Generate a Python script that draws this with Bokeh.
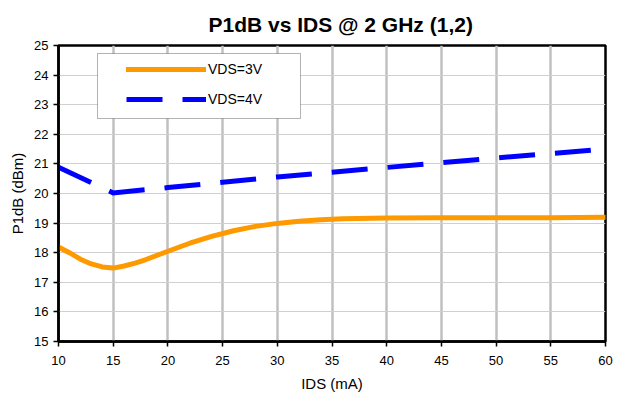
from bokeh.plotting import figure
from bokeh.models import Range1d, FixedTicker, Legend, LegendItem, BoxAnnotation
from bokeh.embed import file_html
from bokeh.resources import INLINE

# ---- data ----
ids_3v = [10, 11, 12, 13, 14, 15, 16, 17, 18, 20, 22, 24, 26, 28, 30, 32, 34, 36, 40, 45, 50, 55, 60]
p1db_3v = [18.19, 18.0, 17.78, 17.62, 17.52, 17.48, 17.55, 17.65, 17.77, 18.05, 18.32, 18.55,
           18.74, 18.89, 18.99, 19.06, 19.11, 19.15, 19.17, 19.18, 19.18, 19.18, 19.2]
ids_4v = [10, 15, 20, 25, 30, 35, 40, 45, 50, 55, 60]
p1db_4v = [20.89, 20.02, 20.2, 20.38, 20.56, 20.72, 20.88, 21.04, 21.2, 21.35, 21.5]
x_ticks = [10, 15, 20, 25, 30, 35, 40, 45, 50, 55, 60]
y_ticks = [15, 16, 17, 18, 19, 20, 21, 22, 23, 24, 25]
series_names = ["VDS=3V", "VDS=4V"]
title_text = "P1dB vs IDS @ 2 GHz (1,2)"
x_label = "IDS (mA)"
y_label = "P1dB (dBm)"

FONT = "Liberation Sans"

p = figure(width=616, height=400, output_backend="svg", toolbar_location=None,
           x_range=Range1d(10, 60), y_range=Range1d(15, 25),
           min_border_left=58, min_border_right=11, min_border_top=45, min_border_bottom=59)

p.title.text = title_text
p.title.text_font = FONT
p.title.text_font_size = "21px"
p.title.text_font_style = "bold"
p.title.text_color = "black"
p.title.align = "left"
p.title.offset = 150
p.title.standoff = 19

p.outline_line_color = "black"
p.outline_line_width = 2.5
p.background_fill_color = "white"
p.border_fill_color = "white"

p.xgrid.grid_line_color = "#C0C0C0"
p.xgrid.grid_line_width = 2.5
p.ygrid.grid_line_color = "#D0D0D0"
p.ygrid.grid_line_width = 1

p.xaxis.ticker = FixedTicker(ticks=x_ticks)
p.yaxis.ticker = FixedTicker(ticks=y_ticks)
for ax in (p.xaxis, p.yaxis):
    ax.axis_line_color = "black"
    ax.axis_line_width = 2.5
    ax.major_tick_line_color = "black"
    ax.major_tick_line_width = 1.5
    ax.major_tick_in = 0
    ax.major_tick_out = 5
    ax.minor_tick_line_color = None
    ax.major_label_text_font = FONT
    ax.major_label_text_font_size = "13px"
    ax.major_label_text_color = "black"
    ax.axis_label_text_font = FONT
    ax.axis_label_text_font_size = "15px"
    ax.axis_label_text_font_style = "normal"
    ax.axis_label_text_color = "black"
p.xaxis.axis_label = x_label
p.yaxis.axis_label = y_label
p.xaxis.major_label_standoff = 9
p.xaxis.axis_label_standoff = 7
p.yaxis.major_label_standoff = 5
p.yaxis.axis_label_standoff = 5

r3 = p.line(ids_3v, p1db_3v, line_color="#FF9900", line_width=5, line_join="round", line_cap="round")
r4 = p.line(ids_4v, p1db_4v, line_color="#0000FF", line_width=5, line_dash="36 20", line_join="miter")

box = BoxAnnotation(left=13.565, right=32.12, bottom=22.534, top=24.73,
                    fill_color="white", fill_alpha=1.0, line_color="black", line_width=1,
                    level="annotation")
p.add_layout(box)

legend = Legend(items=[LegendItem(label=series_names[0], renderers=[r3]),
                       LegendItem(label=series_names[1], renderers=[r4])],
                location=(60, 224), orientation="vertical",
                padding=8, margin=0, spacing=10,
                glyph_width=80, glyph_height=20, label_height=20, label_standoff=2,
                label_text_font=FONT, label_text_font_size="14px", label_text_color="black",
                background_fill_alpha=0, border_line_alpha=0)
p.add_layout(legend, "center")

open("out.html", "w").write(file_html(p, INLINE))
